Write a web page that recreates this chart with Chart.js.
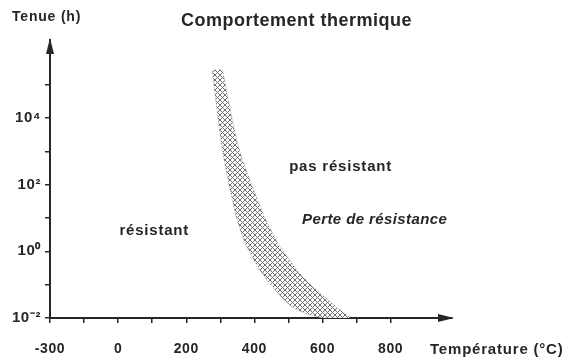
<!DOCTYPE html>
<html lang="fr">
<head>
  <meta charset="UTF-8">
  <title>Comportement thermique</title>
  <script src="https://cdn.jsdelivr.net/npm/chart.js"></script>
  <style>
    body { margin: 0; background: #fff; }
    #wrap { width: 573px; height: 360px; position: relative; }
  </style>
</head>
<body>
  <div id="wrap"><canvas id="thermo" width="573" height="360"></canvas></div>

  <script>
    // Données
    const bandHours = [2.8e5, 1.1e3, 10.7, 1.35, 0.16, 0.021, 0.01];   // tenue (h)
    const bandLowTemp = [276, 306, 347, 378, 432, 512, 600];           // bord gauche (°C)
    const bandHighTemp = [306, 356, 430, 476, 545, 641, 679];          // bord droit (°C)

    const xTickValues = [-200, -100, 0, 100, 200, 300, 400, 500, 600, 700, 800];
    const xTickLabels = ['-300', '', '0', '', '200', '', '400', '', '600', '', '800'];
    const yTickValues = [1e-2, 1e-1, 1e0, 1e1, 1e2, 1e3, 1e4, 1e5];
    const yTickLabels = ['10⁻²', '', '10⁰', '', '10²', '', '10⁴', ''];

    const zoneTexts = ['résistant', 'pas résistant', 'Perte de résistance'];
    const zoneTemps = [106, 653, 753];
    const zoneHours = [4.2, 340, 8.7];

    // Polygone fermé : bord gauche de haut en bas, puis bord droit de bas en haut
    const bandPoints = bandLowTemp.map((t, i) => ({ x: t, y: bandHours[i] }))
      .concat(bandHighTemp.map((t, i) => ({ x: t, y: bandHours[i] })).reverse());

    // Motif hachuré pour la bande
    function hatchPattern() {
      const c = document.createElement('canvas');
      c.width = 5; c.height = 5;
      const g = c.getContext('2d');
      g.fillStyle = '#fff';
      g.fillRect(0, 0, 5, 5);
      g.strokeStyle = '#707070';
      g.lineWidth = 1;
      g.beginPath();
      g.moveTo(0, 0); g.lineTo(5, 5);
      g.moveTo(5, 0); g.lineTo(0, 5);
      g.stroke();
      return g.createPattern(c, 'repeat');
    }

    const ink = '#262626';
    const fam = '"Liberation Sans", Arial, sans-serif';

    const decorPlugin = {
      id: 'decor',
      beforeDraw(chart) {
        chart.ctx.letterSpacing = '0.6px';
      },
      afterDraw(chart) {
        const ctx = chart.ctx;
        const a = chart.chartArea;
        const xs = chart.scales.x, ys = chart.scales.y;
        ctx.save();
        ctx.fillStyle = ink;
        // flèches des axes
        ctx.beginPath();
        ctx.moveTo(a.left, a.top - 2);
        ctx.lineTo(a.left - 4, a.top + 14);
        ctx.lineTo(a.left + 4, a.top + 14);
        ctx.closePath();
        ctx.fill();
        ctx.beginPath();
        ctx.moveTo(a.right + 2, a.bottom);
        ctx.lineTo(a.right - 14, a.bottom - 4);
        ctx.lineTo(a.right - 14, a.bottom + 4);
        ctx.closePath();
        ctx.fill();

        // titres
        ctx.textBaseline = 'middle';
        ctx.textAlign = 'left';
        ctx.letterSpacing = '0.5px';
        ctx.font = 'bold 18px ' + fam;
        ctx.fillText('Comportement thermique', 181, 21);
        ctx.letterSpacing = '0.8px';
        ctx.font = 'bold 14px ' + fam;
        ctx.fillText('Tenue (h)', 12, 17);
        ctx.font = 'bold 15px ' + fam;
        ctx.fillText('Température (°C)', 430, 350);

        // zones
        ctx.textAlign = 'center';
        zoneTexts.forEach((txt, i) => {
          ctx.letterSpacing = i === 2 ? '0.4px' : '0.8px';
          ctx.font = (i === 2 ? 'italic ' : '') + 'bold 15px ' + fam;
          ctx.fillText(txt, xs.getPixelForValue(zoneTemps[i]), ys.getPixelForValue(zoneHours[i]));
        });
        ctx.restore();
      }
    };

    new Chart(document.getElementById('thermo'), {
      type: 'scatter',
      data: {
        datasets: [{
          data: bandPoints,
          showLine: true,
          fill: 'shape',
          backgroundColor: hatchPattern(),
          borderColor: 'rgba(110,110,110,0.5)',
          borderWidth: 0.5,
          pointRadius: 0,
          tension: 0.25
        }]
      },
      options: {
        responsive: false,
        animation: false,
        layout: { padding: { top: 40, right: 121, left: 0, bottom: 0 } },
        plugins: {
          legend: { display: false },
          tooltip: { enabled: false }
        },
        scales: {
          x: {
            type: 'linear',
            min: -200,
            max: 980,
            afterBuildTicks: s => { s.ticks = xTickValues.map(v => ({ value: v })); },
            afterFit: s => { s.height = 42; },
            grid: { drawOnChartArea: false, drawTicks: true, tickLength: 5, color: ink, lineWidth: 1.5 },
            border: { color: ink, width: 2 },
            ticks: {
              color: ink,
              padding: 18,
              maxRotation: 0,
              autoSkip: false,
              font: { family: fam, size: 14, weight: 'bold' },
              callback: (v, i) => xTickLabels[i]
            }
          },
          y: {
            type: 'logarithmic',
            min: 0.01,
            max: 2.2e6,
            afterBuildTicks: s => { s.ticks = yTickValues.map(v => ({ value: v })); },
            afterFit: s => { s.width = 50; },
            grid: { drawOnChartArea: false, drawTicks: true, tickLength: 5, color: ink, lineWidth: 1.5 },
            border: { color: ink, width: 2 },
            ticks: {
              color: ink,
              padding: 4,
              autoSkip: false,
              font: { family: fam, size: 15, weight: 'bold' },
              callback: (v, i) => yTickLabels[i]
            }
          }
        }
      },
      plugins: [decorPlugin]
    });
  </script>
</body>
</html>
